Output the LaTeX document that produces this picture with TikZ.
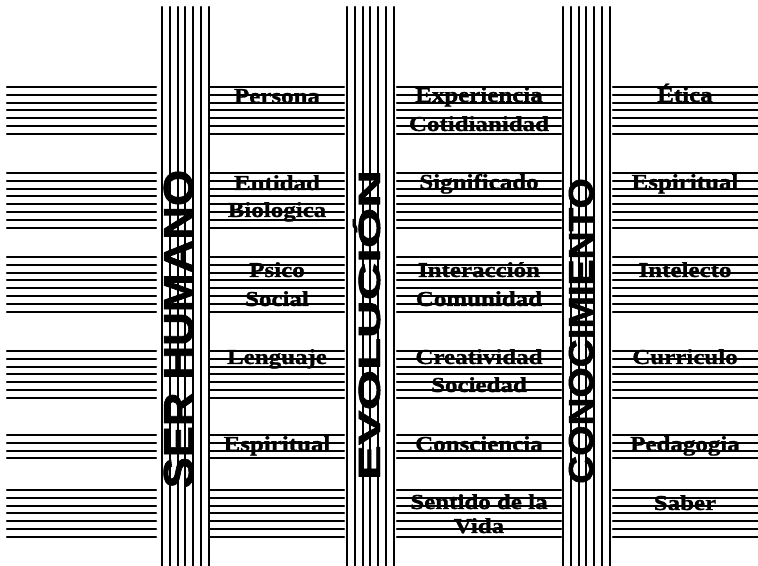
\documentclass[tikz,border=0pt]{standalone}
\usepackage{fontspec}
\setmainfont{Liberation Serif}[BoldFeatures={FakeBold=1}]
\setsansfont{Liberation Sans}[BoldFeatures={FakeBold=1.5}]

\begin{document}
\begin{tikzpicture}[x=0.75pt,y=-0.75pt,
  bar/.style={line width=1.6pt,line cap=round},
  lbl/.style={font=\bfseries\fontsize{16}{16}\selectfont,xscale=1.17,inner sep=0pt,anchor=base},
  axis/.style={rotate=90,inner sep=0pt,anchor=base}]
\def\d{7.8}
\useasboundingbox (0,0) rectangle (758,566);
% Vertical bundles (seven lines each)
\foreach \xa in {162,347,563}
  \foreach \k in {0,...,6}
    \draw[bar] ({\xa+\k*\d},7) -- ({\xa+\k*\d},566);
% Horizontal bundles: first line / number of lines
\foreach \ya/\n in {87/7,173/8,257/8,351/7,435/4,490/7}
  \foreach \k in {1,...,\n}
    \foreach \xl/\xr in {7/156,210/344,397/561,613/758}
      \draw[bar] (\xl,{\ya+(\k-1)*\d}) -- (\xr,{\ya+(\k-1)*\d});

% Column titles, read bottom to top
\node[axis,font=\sffamily\bfseries\fontsize{31.5}{31.5}\selectfont,xscale=1.11] (ser) at (193,329) {SER HUMANO};
\node[axis,font=\sffamily\bfseries\fontsize{23}{23}\selectfont,xscale=1.70] (evo) at (380,325) {EVOLUCIÓN};
\node[axis,font=\sffamily\bfseries\fontsize{26}{26}\selectfont,xscale=1.12] (con) at (593,331) {CONOCIMIENTO};

% First gap
\node[lbl] (persona) at (277,103) {Persona};
\node[lbl] (entidad) at (277,190) {Entidad};
\node[lbl] (biologica) at (277,217) {Biologica};
\node[lbl] (psico) at (277,277) {Psico};
\node[lbl] (social) at (277,306) {Social};
\node[lbl] (lenguaje) at (277,364) {Lenguaje};
\node[lbl] (espiritualA) at (277,451) {Espiritual};
% Second gap
\node[lbl] (experiencia) at (479,102) {Experiencia};
\node[lbl] (cotidianidad) at (479,131) {Cotidianidad};
\node[lbl] (significado) at (479,189) {Significado};
\node[lbl] (interaccion) at (479,277) {Interacción};
\node[lbl] (comunidad) at (479,306) {Comunidad};
\node[lbl] (creatividad) at (479,364) {Creatividad};
\node[lbl] (sociedad) at (479,392) {Sociedad};
\node[lbl] (consciencia) at (479,451) {Consciencia};
\node[lbl] (sentido) at (479,509) {Sentido de la};
\node[lbl] (vida) at (479,533) {Vida};
% Third gap
\node[lbl] (etica) at (685,102) {Ética};
\node[lbl] (espiritualB) at (685,189) {Espiritual};
\node[lbl] (intelecto) at (685,277) {Intelecto};
\node[lbl] (curriculo) at (685,364) {Curriculo};
\node[lbl] (pedagogia) at (685,451) {Pedagogia};
\node[lbl] (saber) at (685,510) {Saber};
\end{tikzpicture}
\end{document}
